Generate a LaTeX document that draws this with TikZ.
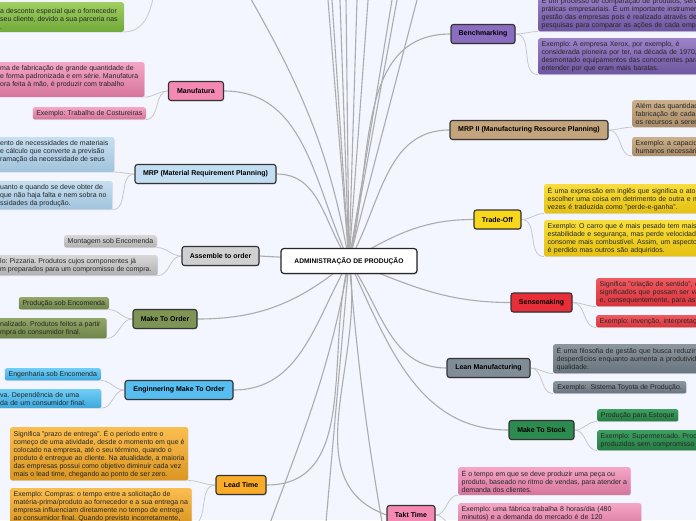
\documentclass[tikz,border=0pt]{standalone}
\usepackage{fontspec}
\setmainfont{Liberation Sans}
\usetikzlibrary{shadows,backgrounds}

\definecolor{bgcol}{RGB}{243,246,254}
\definecolor{branchcol}{RGB}{172,172,172}
\definecolor{twigcol}{RGB}{200,200,202}
% topic fills
\definecolor{manucol}{RGB}{244,138,180}
\definecolor{mrpcol}{RGB}{194,222,242}
\definecolor{asmcol}{RGB}{208,208,208}
\definecolor{mtocol}{RGB}{126,148,84}
\definecolor{etocol}{RGB}{86,190,240}
\definecolor{leadcol}{RGB}{250,172,40}
\definecolor{benchcol}{RGB}{138,108,192}
\definecolor{mrpiicol}{RGB}{196,164,124}
\definecolor{tradecol}{RGB}{248,214,28}
\definecolor{sensecol}{RGB}{232,46,56}
\definecolor{leancol}{RGB}{128,140,150}
\definecolor{mtscol}{RGB}{44,140,80}
% leaf shades (top / bottom)
\definecolor{greenT}{RGB}{160,206,96}   \definecolor{greenB}{RGB}{112,170,58}
\definecolor{pinkT}{RGB}{245,166,198}   \definecolor{pinkB}{RGB}{214,116,156}
\definecolor{mrpT}{RGB}{198,223,240}    \definecolor{mrpB}{RGB}{160,195,220}
\definecolor{grayT}{RGB}{216,216,216}   \definecolor{grayB}{RGB}{176,176,176}
\definecolor{oliveT}{RGB}{146,166,104}  \definecolor{oliveB}{RGB}{110,132,72}
\definecolor{skyT}{RGB}{112,206,245}    \definecolor{skyB}{RGB}{60,168,222}
\definecolor{orangeT}{RGB}{250,190,80}  \definecolor{orangeB}{RGB}{218,150,34}
\definecolor{purpleT}{RGB}{156,130,200} \definecolor{purpleB}{RGB}{110,86,160}
\definecolor{tanT}{RGB}{204,176,140}    \definecolor{tanB}{RGB}{170,140,104}
\definecolor{yellowT}{RGB}{248,222,60}  \definecolor{yellowB}{RGB}{228,192,16}
\definecolor{redT}{RGB}{240,90,96}      \definecolor{redB}{RGB}{216,50,58}
\definecolor{slateT}{RGB}{140,150,158}  \definecolor{slateB}{RGB}{104,116,126}
\definecolor{dgreenT}{RGB}{60,160,96}   \definecolor{dgreenB}{RGB}{38,124,68}
\newcommand{\leaffont}{\fontsize{7}{8}\selectfont\frenchspacing}

\begin{document}
\begin{tikzpicture}[x=1pt, y=-1pt,
    root/.style={draw=black!85, line width=1.2pt, rounded corners=3pt, fill=white,
        minimum width=136pt, minimum height=25pt,
        font=\bfseries\fontsize{6.7}{8}\selectfont,
        drop shadow={shadow xshift=0.8pt, shadow yshift=-1pt, opacity=0.3}},
    topic/.style={draw=black!80, line width=1.1pt, rounded corners=2.5pt,
        minimum height=19pt, inner xsep=2pt,
        font=\bfseries\fontsize{7}{8}\selectfont,
        drop shadow={shadow xshift=0.7pt, shadow yshift=-0.9pt, opacity=0.3}},
    leaf/.style={rounded corners=2pt, inner xsep=3.5pt, inner ysep=2.8pt,
        align=left, font=\leaffont, text=black!85,
        drop shadow={shadow xshift=0.6pt, shadow yshift=-0.8pt, opacity=0.2}},
    leafcol/.style={leaf, top color=#1T, bottom color=#1B},
    cutleft/.style={inner xsep=6pt},
    cutright/.style={anchor=north west, text width=250pt},
    branch/.style={draw=branchcol, line width=1.1pt},
    twig/.style={draw=twigcol, line width=0.8pt}]

    \useasboundingbox (0,0) rectangle (696,520);
    \clip (0,0) rectangle (696,520);

    % Centre
    \node[root] (admin) at (349,261) {ADMINISTRAÇÃO DE PRODUÇÃO};

    % Topics, left
    \node[topic, fill=manucol, minimum width=55pt] (manu) at (196,91) {Manufatura};
    \node[topic, fill=mrpcol, minimum width=141pt] (mrp) at (205.5,174) {MRP (Material Requirement Planning)};
    \node[topic, fill=asmcol, minimum width=77pt] (asm) at (220.5,256) {Assemble to order};
    \node[topic, fill=mtocol, minimum width=64pt] (mto) at (165,319) {Make To Order};
    \node[topic, fill=etocol, minimum width=108pt] (eto) at (179,390) {Enginnering Make To Order};
    \node[topic, fill=leadcol, minimum width=50pt] (lead) at (241,485) {Lead Time};

    % Topics, right
    \node[topic, fill=benchcol, minimum width=64pt] (bench) at (483,34) {Benchmarking};
    \node[topic, fill=mrpiicol, minimum width=158pt] (mrpii) at (529,130) {MRP II (Manufacturing Resource Planning)};
    \node[topic, fill=tradecol, minimum width=47pt] (trade) at (497.5,219.5) {Trade-Off};
    \node[topic, fill=sensecol, minimum width=61pt] (sense) at (541.5,302.5) {Sensemaking};
    \node[topic, fill=leancol, minimum width=83pt] (lean) at (488.5,368) {Lean Manufacturing};
    \node[topic, fill=mtscol, minimum width=65pt] (mts) at (541.5,430) {Make To Stock};
    \node[topic, fill=manucol, minimum width=48pt] (takt) at (411,515) {Takt Time};

    % Leaves, left
    \node[leafcol=green, cutleft, anchor=south west] (topA) at (-6,32)
        {\mbox{}\\a desconto especial que o fornecedor\\seu cliente, devido a sua parceria nas\\.};
    \node[leafcol=pink, cutleft, anchor=north west] (manuA) at (-6,62)
        {ma de fabricação de grande quantidade de\\e forma padronizada e em série. Manufatura\\ora feita à mão, é produzir com trabalho\\\mbox{}};
    \node[leafcol=pink, anchor=north east, minimum width=113pt] (manuB) at (146,107)
        {Exemplo: Trabalho de Costureiras};
    \node[leafcol=mrp, cutleft, anchor=north west] (mrpA) at (-6,137)
        {ento de necessidades de materiais\\e cálculo que converte a previsão\\ramação da necessidade de seus\\\mbox{}};
    \node[leafcol=mrp, cutleft, anchor=north west] (mrpB) at (-6,181)
        {uanto e quando se deve obter de\\que não haja falta e nem sobra no\\ssidades da produção.};
    \node[leafcol=gray, anchor=north east, minimum width=91pt] (asmA) at (157,235)
        {Montagem sob Encomenda};
    \node[leafcol=gray, cutleft, anchor=north west] (asmB) at (-6,255)
        {lo: Pizzaria. Produtos cujos componentes já\\m preparados para um compromisso de compra.};
    \node[leafcol=olive, anchor=north east, minimum width=90pt] (mtoA) at (109,297)
        {Produção sob Encomenda};
    \node[leafcol=olive, cutleft, anchor=north west] (mtoB) at (-6,318)
        {nalizado. Produtos feitos a partir\\mpra do consumidor final.};
    \node[leafcol=sky, anchor=north east, minimum width=96pt] (etoA) at (101,368)
        {Engenharia sob Encomenda};
    \node[leafcol=sky, cutleft, anchor=north west, text width=95pt] (etoB) at (-6,389)
        {va. Dependência de uma\\da de um consumidor final.};
    \node[leafcol=orange, anchor=north west] (leadA) at (10,427)
        {Significa "prazo de entrega". É o período entre o\\começo de uma atividade, desde o momento em que é\\colocado na empresa, até o seu término, quando o\\produto é entregue ao cliente. Na atualidade, a maioria\\das empresas possui como objetivo diminuir cada vez\\mais o lead time, chegando ao ponto de ser zero.};
    \node[leafcol=orange, anchor=north west] (leadB) at (10,488)
        {Exemplo: Compras: o tempo entre a solicitação de\\matéria-prima/produto ao fornecedor e a sua entrega na\\empresa influenciam diretamente no tempo de entrega\\ao consumidor final. Quando previsto incorretamente,};

    % Leaves, right
    \node[leafcol=purple, cutright] (benchA) at (538,-6)
        {É um processo de comparação de produtos, serv\\práticas empresariais. É um importante instrumen\\gestão das empresas pois é realizado através de\\pesquisas para comparar as ações de cada empr};
    \node[leafcol=purple, cutright] (benchB) at (538,38)
        {Exemplo: A empresa Xerox, por exemplo, é\\considerada pioneira por ter, na década de 1970,\\desmontado equipamentos das concorrentes para\\entender por que eram mais baratas.};
    \node[leafcol=tan, cutright] (mrpiiA) at (632,100)
        {Além das quantidad\\fabricação de cada\\os recursos a serem};
    \node[leafcol=tan, cutright] (mrpiiB) at (632,137)
        {Exemplo: a capacid\\humanos necessári};
    \node[leafcol=yellow, cutright] (tradeA) at (544,184)
        {É uma expressão em inglês que significa o ato d\\escolher uma coisa em detrimento de outra e m\\vezes é traduzida como "perde-e-ganha".};
    \node[leafcol=yellow, cutright] (tradeB) at (544,220)
        {Exemplo: O carro que é mais pesado tem mais\\estabilidade e segurança, mas perde velocidade\\consome mais combustível. Assim, um aspecto\\é perdido mas outros são adquiridos.};
    \node[leafcol=red, cutright] (senseA) at (596,278)
        {Significa "criação de sentido", c\\significados que possam ser va\\e, consequentemente, para as};
    \node[leafcol=red, cutright] (senseB) at (596,315)
        {Exemplo: invenção, interpretaç};
    \node[leafcol=slate, cutright] (leanA) at (553,344)
        {É uma filosofia de gestão que busca reduzir\\desperdícios enquanto aumenta a produtivid\\qualidade.};
    \node[leafcol=slate, anchor=north west, minimum width=133pt] (leanB) at (553,381)
        {Exemplo:\ \ Sistema Toyota de Produção.};
    \node[leafcol=dgreen, anchor=north west, minimum width=81pt] (mtsA) at (597,409)
        {Produção para Estoque};
    \node[leafcol=dgreen, cutright] (mtsB) at (597,430)
        {Exemplo: Supermercado. Proc\\produzidos sem compromisso};
    \node[leafcol=pink, anchor=north west] (taktA) at (458,467)
        {É o tempo em que se deve produzir uma peça ou\\produto, baseado no ritmo de vendas, para atender a\\demanda dos clientes.};
    \node[leafcol=pink, anchor=north west, text width=176pt] (taktB) at (458,503)
        {Exemplo: uma fábrica trabalha 8 horas/dia (480\\minutos) e a demanda do mercado é de 120\\\mbox{}};

    % Branch ends outside the view
    \foreach \x [count=\i] in {326.4,330.7,339.3,345.8,357.6,369.5,395.3,400.7,422.2}
        \coordinate (up\i) at (\x,-20);
    \coordinate (upL) at (240,-20);
    \coordinate (dnL) at (262,545);
    \coordinate (dnM) at (324,545);
    \coordinate (dnR) at (386,545);
    \coordinate (topP) at (156,-25);

    \begin{scope}[on background layer]
        \clip (0,0) rectangle (696,520);
        \fill[bgcol] (0,0) rectangle (696,520);

        % Branches from the centre
        \foreach \i in {1,...,9}
            \draw[branch] (admin.center) -- (up\i);
        \draw[branch] (admin.center) to[out=100, in=-60] (upL);
        \draw[branch] (admin.center) to[out=-100, in=70] (dnL);
        \draw[branch] (admin.center) -- (dnM);
        \draw[branch] (admin.center) to[out=-85, in=100] (dnR);

        \draw[branch] (admin.center) to[out=115, in=0] (manu.east);
        \draw[branch] (admin.center) to[out=125, in=0] (mrp.east);
        \draw[branch] (admin.center) -- (asm.east);
        \draw[branch] (admin.center) to[out=-140, in=0] (mto.east);
        \draw[branch] (admin.center) to[out=-120, in=0] (eto.east);
        \draw[branch] (admin.center) to[out=-105, in=0] (lead.east);
        \draw[branch] (admin.center) to[out=75, in=180] (bench.west);
        \draw[branch] (admin.center) to[out=60, in=180] (mrpii.west);
        \draw[branch] (admin.center) to[out=30, in=180] (trade.west);
        \draw[branch] (admin.center) to[out=-22, in=180] (sense.west);
        \draw[branch] (admin.center) to[out=-55, in=180] (lean.west);
        \draw[branch] (admin.center) to[out=-65, in=180] (mts.west);
        \draw[branch] (admin.center) to[out=-80, in=160] (takt.west);

        % Twigs to the leaves
        \draw[twig] (topP) to[out=-95, in=0] (topA.south east);
        \foreach \a/\b in {manu/manuA, manu/manuB, mrp/mrpA, mrp/mrpB, asm/asmA, asm/asmB,
                mto/mtoA, mto/mtoB, eto/etoA, eto/etoB, lead/leadA, lead/leadB}
            \draw[twig] (\a.west) to[out=180, in=0] (\b.south east);
        \foreach \a/\b in {bench/benchA, bench/benchB, mrpii/mrpiiA, mrpii/mrpiiB,
                trade/tradeA, trade/tradeB, sense/senseA, sense/senseB, lean/leanA, lean/leanB,
                mts/mtsA, mts/mtsB, takt/taktA, takt/taktB}
            \draw[twig] (\a.east) to[out=0, in=180] (\b.south west);
    \end{scope}
\end{tikzpicture}
\end{document}
